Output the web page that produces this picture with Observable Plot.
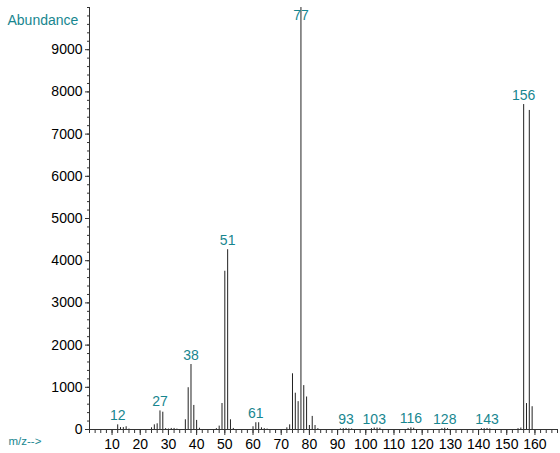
<!DOCTYPE html>
<html>
<head>
<meta charset="utf-8">
<script src="https://cdn.jsdelivr.net/npm/d3@7"></script>
<script src="https://cdn.jsdelivr.net/npm/@observablehq/plot@0.6"></script>
<style>
  html, body { margin: 0; padding: 0; background: #fff; }
  #chart { width: 560px; height: 453px; }
</style>
</head>
<body>
<div id="chart"></div>
<script>
// m/z values and their abundances
const mz = [
  12, 13, 14, 15, 16,
  24, 25, 26, 27, 28, 29, 30, 31, 32, 33,
  36, 37, 38, 39, 40, 41,
  47, 48, 49, 50, 51, 52, 53,
  60, 61, 62, 63, 64, 65,
  72, 73, 74, 75, 76, 77, 78, 79, 80, 81, 82, 83,
  91, 92, 93, 94, 95,
  102, 103, 104, 105,
  115, 116, 117,
  127, 128, 129,
  141, 142, 143, 144,
  154, 155, 156, 157, 158, 159
];
const abundance = [
  110, 45, 45, 65, 10,
  40, 110, 135, 440, 410, 20, 10, 25, 25, 10,
  230, 990, 1540, 570, 215, 30,
  20, 80, 616, 3750, 4260, 230, 25,
  65, 160, 160, 40, 20, 10,
  40, 110, 1320, 860, 660, 9999, 1040, 770, 95, 310, 95, 20,
  15, 20, 25, 15, 15,
  20, 35, 35, 30,
  25, 40, 30,
  20, 30, 20,
  20, 20, 25, 15,
  20, 35, 7700, 615, 7560, 540
];
// peaks that carry an m/z label
const labeledPeaks = [12, 27, 38, 51, 61, 77, 93, 103, 116, 128, 143, 156];
// axis ticks
const xDomain = [2, 168];
const yDomain = [0, 10000];
const xMajorTicks = [10, 20, 30, 40, 50, 60, 70, 80, 90, 100, 110, 120, 130, 140, 150, 160];
const yMajorTicks = [0, 1000, 2000, 3000, 4000, 5000, 6000, 7000, 8000, 9000];
const labelCeiling = 9600; // labels of peaks reaching the top are kept inside the frame

const teal = "#17868f";
const peaks = mz.map((m, i) => ({mz: m, abundance: abundance[i]}));
const labels = peaks.filter(d => labeledPeaks.includes(d.mz));

const chart = Plot.plot({
  width: 560,
  height: 453,
  marginLeft: 89,
  marginRight: 3,
  marginTop: 7,
  marginBottom: 24,
  style: {fontFamily: "'Liberation Sans', Arial, sans-serif", fontSize: "14px", color: "#000", background: "#fff"},
  x: {domain: xDomain},
  y: {domain: yDomain},
  marks: [
    Plot.ruleX(peaks, {x: "mz", y1: 0, y2: "abundance", stroke: "#222", strokeWidth: 1}),
    Plot.text(labels, {
      x: "mz",
      y: d => Math.min(d.abundance, labelCeiling),
      text: d => String(d.mz),
      dy: -9,
      fill: teal,
      fontSize: 14,
      textAnchor: "middle"
    }),
    // minor ticks
    Plot.axisX({ticks: d3.range(xDomain[0], xDomain[1] + 1, 2), tickSize: 4, tickFormat: () => "", label: null, stroke: "#333"}),
    Plot.axisY({ticks: d3.range(0, 10001, 200), tickSize: 2, tickFormat: () => "", label: null, stroke: "#333"}),
    // major ticks with labels
    Plot.axisX({ticks: xMajorTicks, tickSize: 6, tickPadding: 4, tickFormat: d3.format("d"), label: null, fontSize: 14, stroke: "#333"}),
    Plot.axisY({ticks: yMajorTicks, tickSize: 4, tickPadding: 3, tickFormat: d3.format("d"), label: null, fontSize: 14, stroke: "#333"}),
    // axis lines
    Plot.ruleY([0], {stroke: "#333"}),
    Plot.ruleX([xDomain[0]], {stroke: "#333"}),
    // axis titles
    Plot.text(["Abundance"], {frameAnchor: "top-left", text: d => d, dx: -82, dy: 8, textAnchor: "start", fill: teal, fontSize: 14}),
    Plot.text(["m/z-->"], {frameAnchor: "bottom-left", text: d => d, dx: -81, dy: 15, textAnchor: "start", fill: teal, fontSize: 11.5})
  ]
});
document.getElementById("chart").appendChild(chart);
</script>
</body>
</html>
